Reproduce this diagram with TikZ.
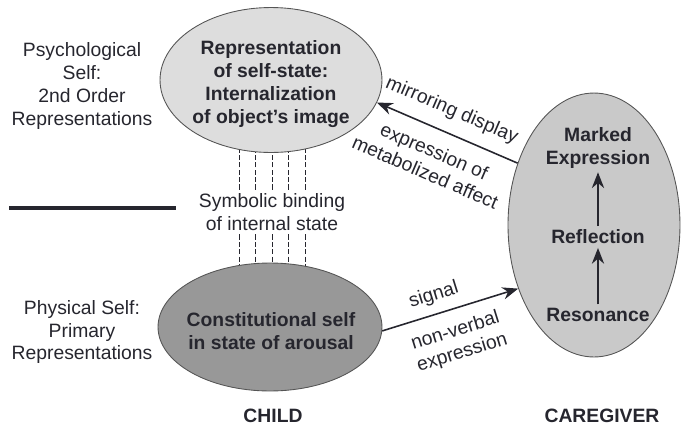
\documentclass[tikz,border=0pt]{standalone}
\usepackage{fontspec}
\setmainfont{Liberation Sans}
\usetikzlibrary{shapes.geometric,   % ellipses
           positioning,
           calc,                    % coordinates between $ $
           arrows.meta}
\pgfdeclarelayer{background}
\pgfsetlayers{background,main}
\definecolor{txt}{RGB}{38,38,46}
\definecolor{lite}{RGB}{221,221,221}
\definecolor{midg}{RGB}{201,201,201}
\definecolor{dark}{RGB}{152,152,152}
\definecolor{rim}{RGB}{85,85,85}

\tikzset{
  blob/.style={ellipse,draw=rim,line width=0.5pt,inner sep=0pt},
  lbl/.style={text=txt,align=center,inner sep=2pt,font=\fontsize{11}{13}\selectfont},
  bld/.style={lbl,font=\fontsize{11}{13}\selectfont\bfseries},
  arr/.style={-{Stealth[length=9pt,width=7pt]},line width=0.9pt,draw=txt},
  larr/.style={{Stealth[length=9pt,width=7pt]}-,line width=0.9pt,draw=txt},
  bind/.style={dash pattern=on 3pt off 1.2pt,line width=0.5pt,draw=txt}
}

\begin{document}
\begin{tikzpicture}[x=0.02cm,y=-0.02cm]
\useasboundingbox (0,0) rectangle (681,427);
\node[blob,fill=lite,minimum width=4.44cm,minimum height=2.9cm](repr)at(271,80){};
\node[bld](reprtxt)at(271,84){Representation\\of self-state:\\Internalization\\of object’s image};
\node[blob,fill=dark,minimum width=4.48cm,minimum height=2.56cm](cons)at(270,327){};
\node[bld](constxt)at(271,331){Constitutional self\\in state of arousal};
\node[blob,fill=midg,minimum width=3.44cm,minimum height=5.28cm](care)at(594,225){};
\node[bld](mark)at(598,148){Marked\\Expression};
\node[bld](refl)at(598,237){Reflection};
\node[bld](reso)at(598,315){Resonance};
\draw[arr,line width=0.8pt](reso)--(refl);
\draw[arr,line width=0.8pt](refl)--(mark);
% binding
\node[lbl](bindtxt)at(272,212){Symbolic binding\\of internal state};
\begin{pgfonlayer}{background}
\foreach \dx in {-33,-16.5,0,16.5,33}{
  \draw[bind]($(bindtxt.north)+(\dx,0)$)--($(bindtxt.north |- repr.center)+(\dx,0)$);
  \draw[bind]($(bindtxt.south)+(\dx,0)$)--($(bindtxt.south |- cons.center)+(\dx,0)$);
}
\end{pgfonlayer}
% arrows between child and caregiver
\draw[larr](repr.-12)--node[lbl,sloped,above=5pt,pos=0.47]{mirroring display}node[lbl,sloped,below=6pt,pos=0.47]{expression of\\metabolized affect}(care.141);
\draw[arr](cons.-2)--node[lbl,sloped,above=3pt,pos=0.42]{signal}node[lbl,sloped,below=5pt,pos=0.49]{non-verbal\\expression}(care.220);
% left side
\node[lbl](psy)at(82,86){Psychological\\Self:\\2nd Order\\Representations};
\node[lbl](phy)at(82,332){Physical Self:\\Primary\\Representations};
\coordinate(ruleL)at(9,208);
\coordinate(ruleR)at(176,208);
\draw[line width=2pt,txt](ruleL)--(ruleR);
\node[bld](child)at(273,416){CHILD};
\node[bld](giver)at(602,416){CAREGIVER};
\end{tikzpicture}
\end{document}
